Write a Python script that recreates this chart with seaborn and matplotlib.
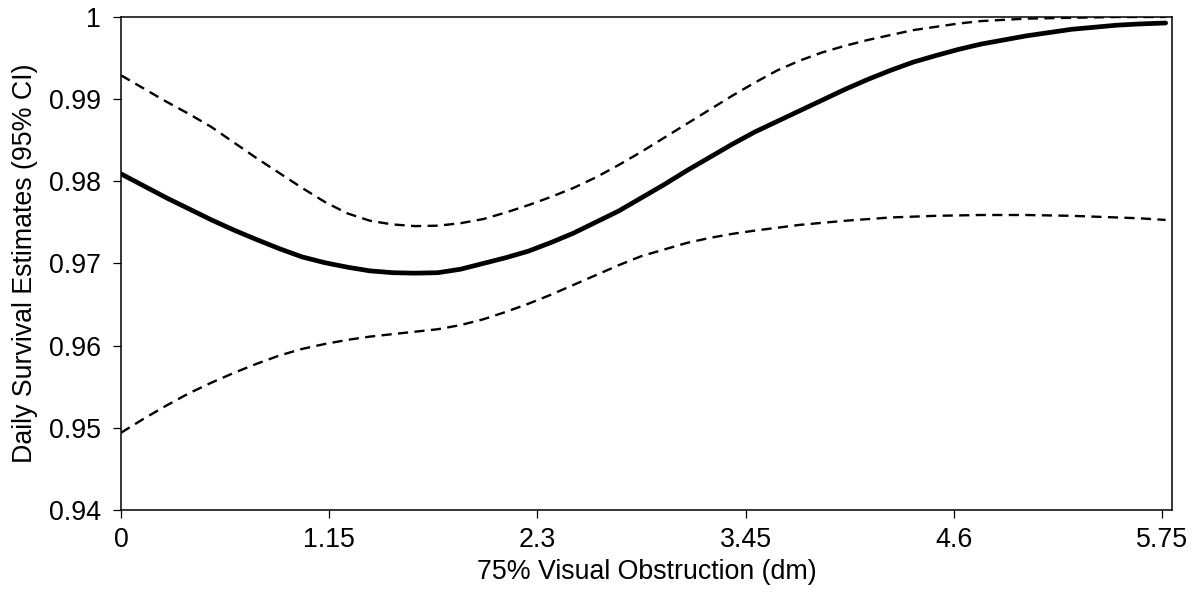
import matplotlib
matplotlib.use("Agg")
import matplotlib.pyplot as plt
import seaborn as sns
import pandas as pd

# Visual obstruction (dm) at which the model was evaluated
obstruction = [0.0, 0.125, 0.25, 0.375, 0.5, 0.625, 0.75, 0.875,
               1.0, 1.125, 1.25, 1.375, 1.5, 1.625, 1.75, 1.875,
               2.0, 2.125, 2.25, 2.375, 2.5, 2.625, 2.75, 2.875,
               3.0, 3.125, 3.25, 3.375, 3.5, 3.625, 3.75, 3.875,
               4.0, 4.125, 4.25, 4.375, 4.5, 4.625, 4.75, 4.875,
               5.0, 5.125, 5.25, 5.375, 5.5, 5.625, 5.77]

# Daily survival estimate
dsr = [0.9809, 0.97945, 0.9780, 0.97665, 0.9753, 0.97405, 0.9729, 0.9718,
       0.9708, 0.9701, 0.96955, 0.9691, 0.96888, 0.96882, 0.96888, 0.9693,
       0.9700, 0.9707, 0.9715, 0.97255, 0.9737, 0.97505, 0.9764, 0.9780,
       0.9796, 0.9813, 0.9829, 0.9845, 0.9860, 0.9873, 0.9886, 0.9899,
       0.9912, 0.9924, 0.9935, 0.9945, 0.9953, 0.99605, 0.9967, 0.9972,
       0.9977, 0.9981, 0.9985, 0.99875, 0.9990, 0.99915, 0.99927]

# Upper 95% confidence limit
upper_ci = [0.9929, 0.9913, 0.9897, 0.9882, 0.9866, 0.9847, 0.9828, 0.9810,
            0.9792, 0.9775, 0.9761, 0.9752, 0.97475, 0.97455, 0.9746, 0.9749,
            0.9754, 0.9762, 0.9771, 0.9781, 0.9792, 0.9805, 0.9820, 0.9836,
            0.9853, 0.9870, 0.9887, 0.9904, 0.9920, 0.9935, 0.9947, 0.9957,
            0.9965, 0.9972, 0.9978, 0.9984, 0.9988, 0.9992, 0.9995, 0.99965,
            0.9998, 0.99985, 0.9999, 0.99995, 1.0, 1.0, 1.0]

# Lower 95% confidence limit
lower_ci = [0.9494, 0.9511, 0.9527, 0.9542, 0.9555, 0.9567, 0.9578, 0.9588,
            0.9596, 0.9602, 0.9607, 0.9611, 0.9614, 0.9617, 0.9620, 0.9625,
            0.9632, 0.9641, 0.9651, 0.9662, 0.9674, 0.9686, 0.9698, 0.9709,
            0.9717, 0.9725, 0.9731, 0.9736, 0.9740, 0.97435, 0.9747, 0.97495,
            0.9752, 0.9754, 0.9756, 0.9757, 0.9758, 0.97585, 0.9759, 0.9759,
            0.9759, 0.97585, 0.9758, 0.9757, 0.9756, 0.9755, 0.9753]

x_ticks = [0, 1.15, 2.3, 3.45, 4.6, 5.75]
x_tick_labels = ["0", "1.15", "2.3", "3.45", "4.6", "5.75"]
y_ticks = [0.94, 0.95, 0.96, 0.97, 0.98, 0.99, 1.0]
y_tick_labels = ["0.94", "0.95", "0.96", "0.97", "0.98", "0.99", "1"]

df = pd.DataFrame({"vo": obstruction, "dsr": dsr, "upper": upper_ci, "lower": lower_ci})

sns.set_theme(style="ticks")
plt.rcParams["font.family"] = ["Liberation Sans", "DejaVu Sans"]

FONT_SIZE = 19.3

fig = plt.figure(figsize=(12.03, 5.98), dpi=100)
ax = fig.add_axes([0.1006, 0.1472, 0.8736, 0.8244])

sns.lineplot(data=df, x="vo", y="upper", ax=ax, color="black", linewidth=1.7,
             linestyle=(0, (4.3, 2.7)))
sns.lineplot(data=df, x="vo", y="lower", ax=ax, color="black", linewidth=1.7,
             linestyle=(0, (4.3, 2.7)))
sns.lineplot(data=df, x="vo", y="dsr", ax=ax, color="black", linewidth=3.4,
             solid_capstyle="round", solid_joinstyle="round")

ax.set_xlim(0, 5.805)
ax.set_ylim(0.94, 1.0)
ax.set_xticks(x_ticks)
ax.set_xticklabels(x_tick_labels)
ax.set_yticks(y_ticks)
ax.set_yticklabels(y_tick_labels)

for side in ["left", "right", "top", "bottom"]:
    ax.spines[side].set_visible(True)
    ax.spines[side].set_color("black")
    ax.spines[side].set_linewidth(1.1)

ax.tick_params(axis="both", direction="out", length=5.5, width=0.9, color="black",
               labelsize=FONT_SIZE, labelcolor="black")
ax.tick_params(axis="x", pad=7)
ax.tick_params(axis="y", pad=9)

ax.set_xlabel("75% Visual Obstruction (dm)", fontsize=FONT_SIZE, color="black", labelpad=4)
ax.set_ylabel("Daily Survival Estimates (95% CI)", fontsize=FONT_SIZE, color="black", labelpad=8)
ax.grid(False)

fig.savefig("out.png", dpi=100, facecolor="white")
